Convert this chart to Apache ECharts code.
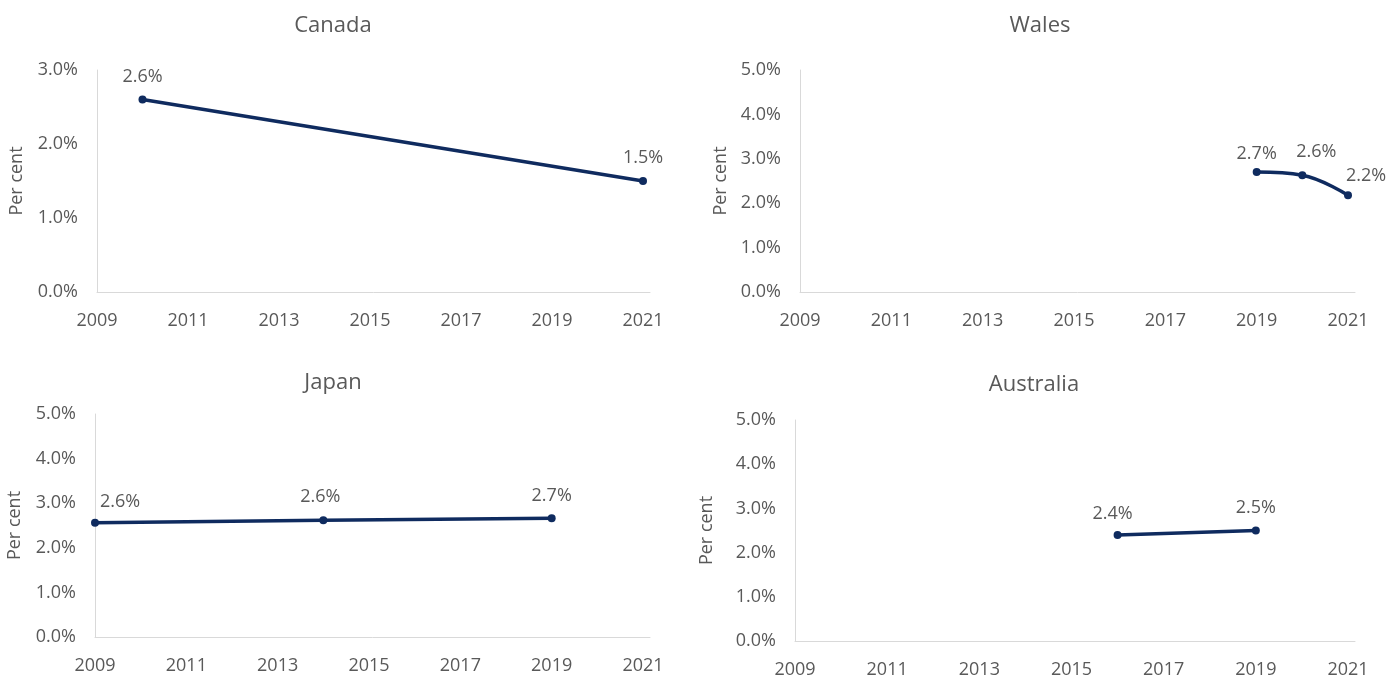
<!DOCTYPE html>
<html>
<head>
<meta charset="utf-8">
<script src="https://cdn.jsdelivr.net/npm/echarts@6/dist/echarts.min.js"></script>
<style>
  html, body { margin: 0; padding: 0; background: #fff; }
  #main { width: 1397px; height: 680px; }
</style>
</head>
<body>
<div id="main"></div>
<script>
// ---- data ----
const panelNames = ['Canada', 'Wales', 'Japan', 'Australia'];
const canadaYears = [2010, 2021];
const canadaValues = [2.6, 1.5];
const walesYears = [2019, 2020, 2021];
const walesValues = [2.7, 2.63, 2.18];
const japanYears = [2009, 2014, 2019];
const japanValues = [2.56, 2.62, 2.66];
const australiaYears = [2016, 2019];
const australiaValues = [2.4, 2.5];
const yMaxes = [3, 5, 5, 5];

const FONT = '"Open Sans", "DejaVu Sans", sans-serif';
const TEXT = '#595959';
const LINE = '#0f2b5f';

// 面板布局 (px)
const panels = [
    { grid: { left: 97, top: 70, width: 553, height: 222 }, title: [333, 15], nameGap: 71, years: canadaYears, values: canadaValues,
      offsets: [[0, 0], [0, 0]] },
    { grid: { left: 800, top: 70, width: 555, height: 222 }, title: [1040, 15], nameGap: 70, years: walesYears, values: walesValues,
      offsets: [[0, 5], [14, 0], [18, 4]], smooth: true },
    { grid: { left: 95, top: 414, width: 555, height: 223 }, title: [333, 372], nameGap: 71, years: japanYears, values: japanValues,
      offsets: [[25, 2], [-3, 0], [0, 1]] },
    { grid: { left: 795, top: 420, width: 560, height: 221 }, title: [1034, 374], nameGap: 79, years: australiaYears, values: australiaValues,
      offsets: [[-5, 2], [0, 0]] }
];

const option = {
    backgroundColor: '#fff',
    animation: false,
    title: panels.map((p, i) => ({
        text: panelNames[i],
        left: p.title[0],
        top: p.title[1],
        textAlign: 'center',
        padding: 0,
        textStyle: { fontFamily: FONT, fontSize: 22, fontWeight: 'normal', color: TEXT }
    })),
    grid: panels.map(p => p.grid),
    xAxis: panels.map((p, i) => {
        const w = p.grid.width;
        return {
            type: 'value',
            gridIndex: i,
            min: 2009,
            max: 2021 + 7 / ((w - 7) / 12),
            interval: 2,
            axisLine: { show: true, lineStyle: { color: '#d9d9d9', width: 1 } },
            axisTick: { show: false },
            splitLine: { show: false },
            axisLabel: {
                showMaxLabel: false,
                margin: 20,
                color: TEXT, fontFamily: FONT, fontSize: 18,
                formatter: v => String(Math.round(v))
            }
        };
    }),
    yAxis: panels.map((p, i) => ({
        type: 'value',
        gridIndex: i,
        min: 0,
        max: yMaxes[i],
        interval: 1,
        name: 'Per cent',
        nameLocation: 'middle',
        nameGap: p.nameGap,
        nameTextStyle: { color: TEXT, fontFamily: FONT, fontSize: 18 },
        axisLine: { show: true, lineStyle: { color: '#d9d9d9', width: 1 } },
        axisTick: { show: false },
        splitLine: { show: false },
        axisLabel: {
            margin: 19,
            color: TEXT, fontFamily: FONT, fontSize: 18,
            formatter: v => v.toFixed(1) + '%'
        }
    })),
    series: panels.map((p, i) => ({
        type: 'line',
        xAxisIndex: i,
        yAxisIndex: i,
        smooth: p.smooth ? 0.4 : false,
        symbol: 'circle',
        symbolSize: 8,
        lineStyle: { color: LINE, width: 3.5 },
        itemStyle: { color: LINE },
        data: p.years.map((y, k) => ({
            value: [y, p.values[k]],
            label: { offset: p.offsets[k] }
        })),
        label: {
            show: true,
            position: 'top',
            distance: 10,
            color: TEXT,
            fontFamily: FONT,
            fontSize: 18,
            formatter: d => d.value[1].toFixed(1) + '%'
        }
    }))
};

const chart = echarts.init(document.getElementById('main'));
chart.setOption(option);
</script>
</body>
</html>
